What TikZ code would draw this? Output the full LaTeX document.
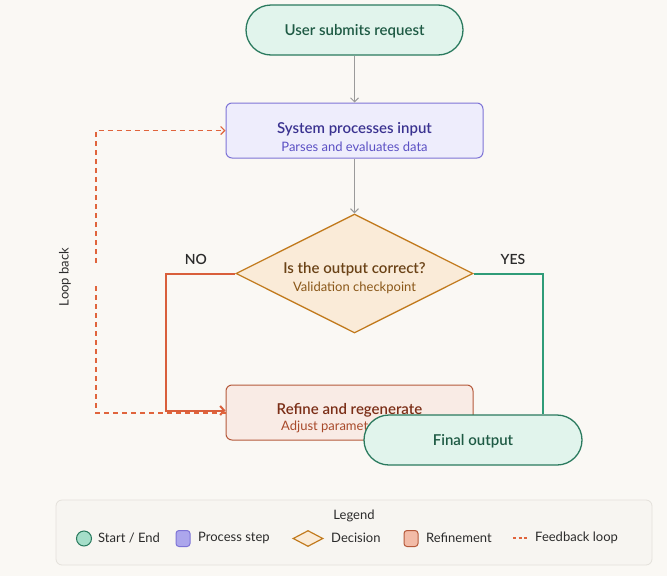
\documentclass[tikz,border=0pt]{standalone}
\usepackage{fontspec}
\setmainfont{Lato}
\newfontfamily\semib{Lato Semibold}
\usetikzlibrary{shapes.geometric,arrows.meta}
\definecolor{bg}{HTML}{FAF8F4}
\definecolor{stfill}{HTML}{E1F4EC}
\definecolor{stdraw}{HTML}{2A7A5E}
\definecolor{sttext}{HTML}{1E5A44}
\definecolor{prfill}{HTML}{EEEDFC}
\definecolor{prdraw}{HTML}{7E74D6}
\definecolor{prtitle}{HTML}{3A3290}
\definecolor{prsub}{HTML}{5B50C4}
\definecolor{defill}{HTML}{FAEBD8}
\definecolor{dedraw}{HTML}{C27B1F}
\definecolor{detitle}{HTML}{6A4216}
\definecolor{desub}{HTML}{8A5718}
\definecolor{rffill}{HTML}{F9EBE5}
\definecolor{rfdraw}{HTML}{B55A3B}
\definecolor{rftitle}{HTML}{7B2E17}
\definecolor{rfsub}{HTML}{A84A2B}
\definecolor{nocol}{HTML}{D95F3B}
\definecolor{yescol}{HTML}{2F9C78}
\definecolor{fbcol}{HTML}{E0643C}
\definecolor{arrgray}{HTML}{9A9A9A}
\definecolor{lgfill}{HTML}{F7F5F1}
\definecolor{lgdraw}{HTML}{E4E1DB}
\definecolor{lgstart}{HTML}{A5DEC9}
\definecolor{lgproc}{HTML}{ACA6EC}
\definecolor{lgref}{HTML}{F2BBA7}
\definecolor{txtdark}{HTML}{2B2B2B}
\newcommand{\ttlfont}{\semib\fontsize{15}{17}\selectfont}
\newcommand{\subfont}{\fontsize{13}{15}\selectfont}
\tikzset{
  pill/.style={draw=stdraw, fill=stfill, line width=1.3pt, rounded corners=25pt,
    minimum width=217pt, minimum height=50pt, inner sep=0pt},
  procbox/.style={draw=prdraw, fill=prfill, line width=1pt, rounded corners=6pt,
    minimum width=257pt, minimum height=55pt, inner sep=0pt},
  refbox/.style={draw=rfdraw, fill=rffill, line width=1pt, rounded corners=6pt,
    minimum width=247pt, minimum height=55pt, inner sep=0pt},
  decbox/.style={diamond, aspect=2, draw=dedraw, fill=defill, line width=1.3pt,
    minimum width=237pt, minimum height=119pt, inner sep=0pt},
  garrow/.style={draw=arrgray, line width=1pt, -{Straight Barb[length=4pt,width=8pt]}},
  noline/.style={draw=nocol, line width=2pt, -{Straight Barb[length=4pt,width=9pt]}},
  yesline/.style={draw=yescol, line width=2pt},
  fbline/.style={draw=fbcol, line width=1.2pt, dash pattern=on 5pt off 4pt},
  fbarrow/.style={fbline, -{Straight Barb[length=4pt,width=8pt]}},
  lbl/.style={font=\semib\fontsize{14}{16}\selectfont, text=txtdark},
  legtext/.style={font=\subfont, text=txtdark, anchor=west, inner sep=0pt}
}
\begin{document}
\begin{tikzpicture}[x=1pt,y=-1pt]
\path[fill=bg] (0,0) rectangle (667,576);
\useasboundingbox (0,0) rectangle (667,576);

% nodes
\node[pill] (start) at (354.5,30) {};
\node[text=sttext, font=\ttlfont] (startt) at (354.5,31.5) {User submits request};
\node[procbox] (proc) at (354.5,130.5) {};
\node[text=prtitle, font=\ttlfont] (proct) at (354.5,129.5) {System processes input};
\node[text=prsub, font=\subfont] (procs) at (354.5,147) {Parses and evaluates data};
\node[decbox] (dec) at (354.5,273.5) {};
\node[text=detitle, font=\ttlfont] (dect) at (354.5,269.5) {Is the output correct?};
\node[text=desub, font=\subfont] (decs) at (354.5,288) {Validation checkpoint};

% connectors
\draw[garrow] (start) -- (proc);
\draw[garrow] (proc) -- (dec);

\node[refbox] (ref) at (349.5,412.5) {};
\node[text=rftitle, font=\ttlfont] (reft) at (349.5,410.5) {Refine and regenerate};
\node[text=rfsub, font=\subfont, anchor=west, inner sep=0pt] (refs) at (281,426.5) {Adjust parameters};

\coordinate (nocorner) at (166,273.5);
\draw[noline] (dec.west) -- (nocorner) |- ([yshift=2pt]ref.west);
\node[lbl] (nolbl) at (196,259.5) {NO};

\coordinate (gapb) at (96,282);
\coordinate (gapt) at (96,263);
\draw[fbline] ([yshift=-0.5pt]ref.west) -| (gapb);
\draw[fbarrow] (gapt) |- (proc.west);
\node[rotate=90, font=\subfont, text=txtdark] (loop) at (65,277) {Loop back};

\coordinate (yescorner) at (543,273.5);
\node[pill, minimum width=218pt] (fin) at (473,440) {};
\node[text=sttext, font=\ttlfont] (fint) at (473,441.5) {Final output};
\draw[yesline] (dec.east) -- (yescorner) -- (yescorner |- fin.north);
\node[lbl] (yeslbl) at (513,259.5) {YES};

% legend
\node[draw=lgdraw, fill=lgfill, line width=0.8pt, rounded corners=6pt,
  minimum width=596pt, minimum height=65pt] (leg) at (354,532.5) {};
\node[font=\subfont, text=txtdark] (legt) at (354,516) {Legend};
\node[circle, draw=stdraw, fill=lgstart, line width=1pt, minimum size=15pt, inner sep=0pt] (ic1) at (84,538.5) {};
\node[legtext] (lt1) at (98,538) {Start / End};
\node[draw=prdraw, fill=lgproc, line width=1pt, rounded corners=3pt, minimum width=14pt, minimum height=16pt, inner sep=0pt] (ic2) at (183,538.5) {};
\node[legtext] (lt2) at (198,538) {Process step};
\node[diamond, aspect=2, draw=dedraw, fill=defill, line width=1.2pt, minimum width=30pt, minimum height=16pt, inner sep=0pt] (ic3) at (308,538.5) {};
\node[legtext] (lt3) at (331,538) {Decision};
\node[draw=rfdraw, fill=lgref, line width=1pt, rounded corners=3pt, minimum width=14pt, minimum height=16pt, inner sep=0pt] (ic4) at (411,538.5) {};
\node[legtext] (lt4) at (426,538) {Refinement};
\coordinate (d1) at (513,538);
\coordinate (d2) at (529,538);
\draw[fbcol, line width=1.2pt, dash pattern=on 3pt off 2.5pt] (d1) -- (d2);
\node[legtext] (lt5) at (535,538) {Feedback loop};
\end{tikzpicture}
\end{document}
